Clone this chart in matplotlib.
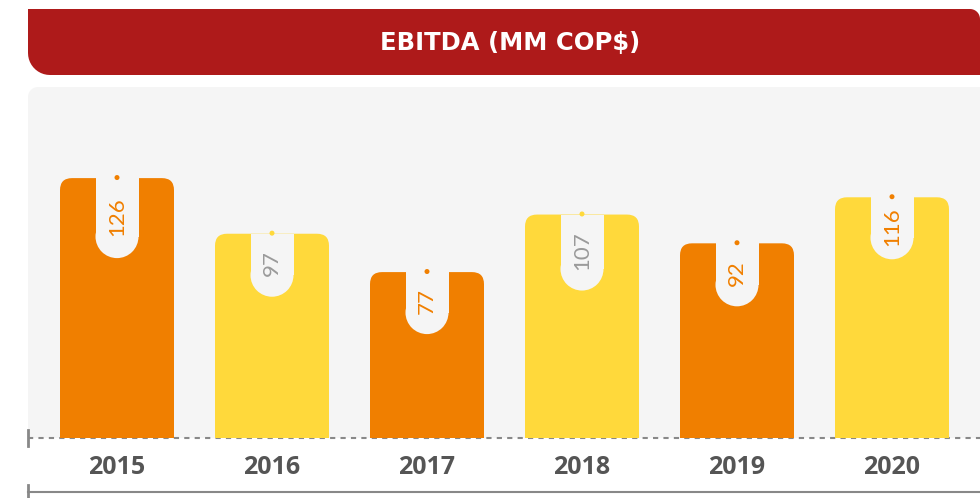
import numpy as np
import matplotlib.pyplot as plt
from matplotlib.patches import FancyBboxPatch, Rectangle, Ellipse, PathPatch
from matplotlib.path import Path

# data
years = ['2015', '2016', '2017', '2018', '2019', '2020']
ebitda = [126, 97, 77, 107, 92, 116]
title = 'EBITDA (MM COP$)'

# styles
ORANGE = '#F07F00'
YELLOW = '#FFD93B'
RED = '#AE1A1A'
PANEL = '#F5F5F5'
GRAY = '#888888'
bar_colors = [ORANGE, YELLOW, ORANGE, YELLOW, ORANGE, YELLOW]
label_colors = [ORANGE, '#9A9A9A', ORANGE, '#9A9A9A', ORANGE, ORANGE]
dot_colors = [ORANGE, YELLOW, ORANGE, YELLOW, ORANGE, ORANGE]
tab_depth_px = [80, 63, 62, 76, 63, 62]

W, H = 980, 498
fig = plt.figure(figsize=(W / 100, H / 100), dpi=100)

# background layer in pixel coords
bg = fig.add_axes([0, 0, 1, 1])
bg.set_xlim(0, W)
bg.set_ylim(H, 0)
bg.axis('off')


def rounded_path(x0, y0, x1, y1, r_tl, r_tr, r_br, r_bl):
    # y grows downward (pixel coords)
    pts = []

    def arc(cx, cy, r, a0, a1):
        if r == 0:
            return [(cx, cy)]
        t = np.linspace(np.radians(a0), np.radians(a1), 12)
        return list(zip(cx + r * np.cos(t), cy + r * np.sin(t)))

    pts += arc(x0 + r_tl, y0 + r_tl, r_tl, 180, 270)
    pts += arc(x1 - r_tr, y0 + r_tr, r_tr, 270, 360)
    pts += arc(x1 - r_br, y1 - r_br, r_br, 0, 90)
    pts += arc(x0 + r_bl, y1 - r_bl, r_bl, 90, 180)
    pts.append(pts[0])
    codes = [Path.MOVETO] + [Path.LINETO] * (len(pts) - 2) + [Path.CLOSEPOLY]
    return Path(pts, codes)


# header banner
bg.add_patch(PathPatch(rounded_path(28, 9, 980, 75, 0, 10, 0, 22), fc=RED, ec='none'))
bg.text(510, 43, title, color='white', fontsize=17.5, fontweight='bold',
        family=['DejaVu Sans'], ha='center', va='center')

# panel
bg.add_patch(PathPatch(rounded_path(28, 87, 990, 438, 10, 10, 0, 0), fc=PANEL, ec='none'))

# baseline and bottom line
bg.plot([28, 980], [438, 438], color=GRAY, lw=1.5, ls=(0, (2.5, 2.5)))
bg.plot([28, 28], [430, 446], color=GRAY, lw=2)
bg.plot([28, 980], [492, 492], color=GRAY, lw=1.5)
bg.plot([28, 28], [485, 498], color=GRAY, lw=2)

# data axes
ymin = -9.5
px_per_unit = 1.918
ax_h = 351
ax_w = 952
ymax = ymin + ax_h / px_per_unit
ax = fig.add_axes([28 / W, (H - 438) / H, ax_w / W, ax_h / H])
ax.patch.set_alpha(0)
ax.axis('off')
xunit = 155.0
x0 = -(117 - 28) / xunit
ax.set_xlim(x0, x0 + ax_w / xunit)
ax.set_ylim(ymin, ymax)

bar_w = 114 / xunit
tab_w = 43 / xunit
r_px = 12
aspect = xunit / px_per_unit

x = np.arange(len(years))
for i, v in enumerate(ebitda):
    # bar with rounded top corners, bottom corners hidden below axis
    ax.add_patch(FancyBboxPatch((x[i] - bar_w / 2, ymin - 20), bar_w, v - ymin + 20,
                                boxstyle=f'round,pad=0,rounding_size={r_px / xunit}',
                                mutation_aspect=aspect, fc=bar_colors[i], ec='none'))
    # hanging tab
    d = tab_depth_px[i] / px_per_unit
    rr = (43 / 2) / px_per_unit
    ax.add_patch(Rectangle((x[i] - tab_w / 2, v - d + rr), tab_w, d - rr, fc=PANEL, ec='none'))
    ax.add_patch(Ellipse((x[i], v - d + rr), tab_w, 2 * rr, fc=PANEL, ec='none'))
    ax.add_patch(Ellipse((x[i], v + 0.3), 5 / xunit, 5 / px_per_unit, fc=dot_colors[i], ec='none'))
    ax.text(x[i], v - d / 2 + 1, str(v), rotation=90, ha='center', va='center',
            color=label_colors[i], fontsize=16, fontweight='normal',
            family=['Lato', 'DejaVu Sans'])
    # year label
    ax.text(x[i], ymin - 29 / px_per_unit, years[i], ha='center', va='center',
            color='#555555', fontsize=18, fontweight='bold',
            family=['Open Sans', 'DejaVu Sans'], clip_on=False)

fig.savefig('out.png', dpi=100)
